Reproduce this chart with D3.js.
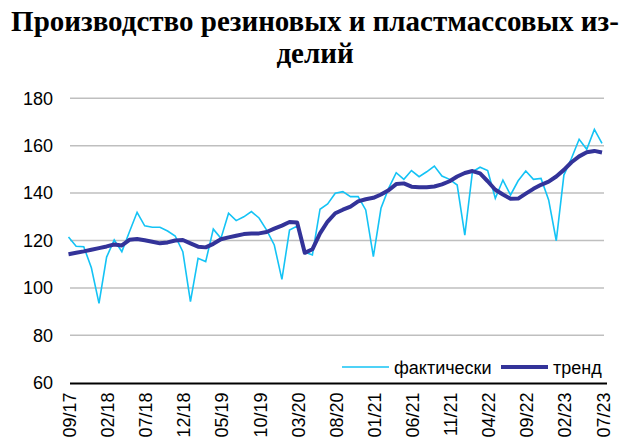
<!DOCTYPE html>
<html><head><meta charset="utf-8">
<script src="https://cdn.jsdelivr.net/npm/d3@7"></script>
<style>html,body{margin:0;padding:0;background:#fff;}svg{display:block;}</style>
</head><body>
<script>
const titleLines = ["Производство резиновых и пластмассовых из-", "делий"];
const yTicks = [60, 80, 100, 120, 140, 160, 180];
const tickLabels = ["09/17","02/18","07/18","12/18","05/19","10/19","03/20","08/20","01/21","06/21","11/21","04/22","09/22","02/23","07/23"];
const seriesNames = ["фактически", "тренд"];
const actual = [121.5,117.6,117.4,108.5,93.5,113,120.2,115.3,123.7,131.9,126.2,125.6,125.6,124,121.9,115.3,94.2,112.5,111.1,124.8,120.9,131.5,128.4,130,132.2,129.5,124.4,118.1,103.6,124.4,126.1,115.1,113.9,133.2,135.4,139.9,140.6,138.5,138.5,132.9,113.2,133.6,142,148.6,145.8,149.5,146.9,149,151.4,147.2,145.8,143.4,122.3,149,150.9,149.5,137.8,145.5,139.2,145.2,149.3,145.8,146.2,137.1,119.9,147.6,154.7,162.7,158.5,166.9,161];
const trend = [114.2,114.8,115.4,116.1,116.8,117.5,118.3,117.9,120.3,120.6,120.1,119.5,118.8,119.2,120,120.2,118.8,117.4,117.1,118.6,120.5,121.3,122,122.7,123,123,123.6,125,126.3,127.8,127.6,114.8,116.3,123,128,131.5,133,134.3,136.5,137.4,138,139.4,141.2,143.8,144.1,142.7,142.5,142.5,142.8,143.7,145,147,148.5,149.3,148.3,145,141.4,139.4,137.6,137.7,139.8,141.8,143.5,144.8,147,149.8,153,155.5,157.2,157.8,157.1];

const W = 629, H = 439;
const svg = d3.select("body").append("svg").attr("width", W).attr("height", H);

const x = d3.scaleLinear().domain([0, actual.length - 1]).range([68.5, 602]);
const y = d3.scaleLinear().domain([60, 180]).range([382.7, 98.3]);

// title
svg.append("g").selectAll("text").data(titleLines).join("text")
  .attr("x", 315).attr("y", (d, i) => 31 + i * 32)
  .attr("text-anchor", "middle")
  .attr("font-family", "'Liberation Serif','Times New Roman',serif")
  .attr("font-weight", "bold").attr("font-size", 29)
  .attr("fill", "#000").text(d => d);

// y axis labels and gridlines
const yAxis = d3.axisLeft(y).tickValues(yTicks).tickSize(0).tickPadding(17);
const gy = svg.append("g").attr("transform", "translate(70,0)").call(yAxis);
gy.select(".domain").remove();
gy.selectAll("text").attr("font-family", "'Liberation Sans',Arial,sans-serif").attr("font-size", 18).attr("fill", "#000");
svg.append("g").selectAll("line").data(yTicks.filter(v => v > 60)).join("line")
  .attr("x1", 70).attr("x2", 604).attr("y1", d => y(d)).attr("y2", d => y(d))
  .attr("stroke", "#bfbfbf").attr("stroke-width", 1.5);

// series
const line = d3.line().x((d, i) => x(i)).y(d => y(d));
svg.append("path").datum(actual).attr("d", line).attr("fill", "none")
  .attr("stroke", "#14c3f5").attr("stroke-width", 1.6).attr("stroke-linejoin", "miter");
svg.append("path").datum(trend).attr("d", line).attr("fill", "none")
  .attr("stroke", "#333399").attr("stroke-width", 4).attr("stroke-linejoin", "round");

// x axis
const tickIdx = tickLabels.map((t, i) => i * 5);
const xAxis = d3.axisBottom(x).tickValues(tickIdx).tickFormat((d, i) => tickLabels[i]).tickSize(0).tickPadding(0);
const gx = svg.append("g").attr("transform", "translate(0,383.4)").call(xAxis);
gx.select(".domain").remove();
svg.append("line").attr("x1", 70).attr("x2", 607).attr("y1", 383.4).attr("y2", 383.4)
  .attr("stroke", "#000").attr("stroke-width", 2);
gx.selectAll("text")
  .attr("font-family", "'Liberation Sans',Arial,sans-serif").attr("font-size", 18).attr("fill", "#000")
  .attr("text-anchor", "end").attr("dy", null).attr("y", 0)
  .attr("transform", "translate(7,9) rotate(-90)");

// legend
const leg = svg.append("g");
const legItems = [
  {name: seriesNames[0], color: "#14c3f5", w: 1.6, x1: 342, x2: 389, tx: 394},
  {name: seriesNames[1], color: "#333399", w: 4, x1: 501, x2: 548, tx: 553}
];
legItems.forEach(d => {
  leg.append("line").attr("x1", d.x1).attr("x2", d.x2).attr("y1", 367).attr("y2", 367)
    .attr("stroke", d.color).attr("stroke-width", d.w);
  leg.append("text").attr("x", d.tx).attr("y", 373.5)
    .attr("font-family", "'Liberation Sans',Arial,sans-serif").attr("font-size", 18)
    .attr("fill", "#000").text(d.name);
});
</script>
</body></html>
